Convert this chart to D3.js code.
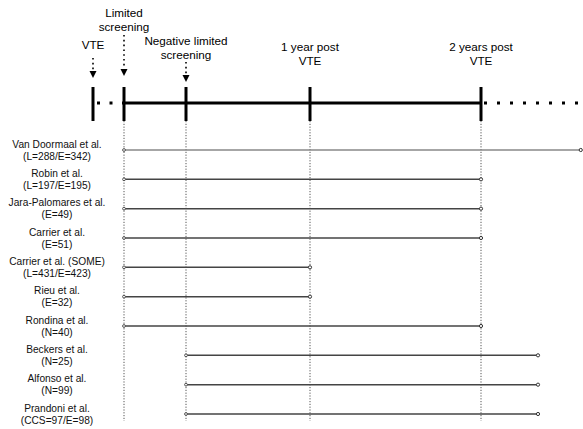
<!DOCTYPE html>
<html>
<head>
<meta charset="utf-8">
<script src="https://cdn.jsdelivr.net/npm/d3@7"></script>
<style>
  body { margin: 0; background: #fff; }
  svg { display: block; font-family: "Liberation Sans", Arial, sans-serif; }
</style>
</head>
<body>
<div id="chart"></div>
<script>
// milestones on the timeline (months after limited screening)
var milestoneNames = [["VTE"], ["Limited", "screening"], ["Negative limited", "screening"], ["1 year post", "VTE"], ["2 years post", "VTE"]];
var milestoneMonths = [-2, 0, 4, 12, 24];

// studies
var studyNames = ["Van Doormaal et al.", "Robin et al.", "Jara-Palomares et al.", "Carrier et al.", "Carrier et al. (SOME)",
  "Rieu et al.", "Rondina et al.", "Beckers et al.", "Alfonso et al.", "Prandoni et al."];
var studySizes = ["(L=288/E=342)", "(L=197/E=195)", "(E=49)", "(E=51)", "(L=431/E=423)",
  "(E=32)", "(N=40)", "(N=25)", "(N=99)", "(CCS=97/E=98)"];
var startMonth = [0, 0, 0, 0, 0, 0, 0, 4, 4, 4];
var endMonth = [31, 24, 24, 24, 12, 12, 24, 28, 28, 28];

var width = 583, height = 429;
var svg = d3.select('#chart').append('svg').attr('width', width).attr('height', height);

// piecewise time scale, the VTE -> screening part is a broken segment
var x = d3.scaleLinear().domain([-2, 0, 12, 24]).range([93, 124, 310, 481]);
var y = d3.scalePoint().domain(d3.range(studyNames.length)).range([150, 414]);

var axisY = 103;

// vertical dotted guides (not for VTE)
svg.selectAll('.guide').data(milestoneMonths.slice(1)).enter().append('line')
  .attr('x1', function(d){ return x(d); }).attr('x2', function(d){ return x(d); })
  .attr('y1', 121).attr('y2', 421)
  .attr('stroke', '#555').attr('stroke-width', 1).attr('stroke-dasharray', '1.2,1.6');

// main timeline
svg.append('line').attr('x1', x(0)).attr('x2', x(24)).attr('y1', axisY).attr('y2', axisY)
  .attr('stroke', '#000').attr('stroke-width', 3);
svg.append('line').attr('x1', x(-2) + 4).attr('x2', x(0)).attr('y1', axisY).attr('y2', axisY)
  .attr('stroke', '#000').attr('stroke-width', 3).attr('stroke-dasharray', '3,9.5');
svg.append('line').attr('x1', x(24) + 3).attr('x2', width).attr('y1', axisY).attr('y2', axisY)
  .attr('stroke', '#000').attr('stroke-width', 3).attr('stroke-dasharray', '3,10');

svg.selectAll('.tick').data(milestoneMonths).enter().append('line')
  .attr('x1', function(d){ return x(d); }).attr('x2', function(d){ return x(d); })
  .attr('y1', 87).attr('y2', 121)
  .attr('stroke', '#000').attr('stroke-width', 3);

// milestone labels
var labelTop = [45, 13, 41, 47, 47];
var arrowFrom = [58, 35, 62, null, null];
var arrowTip = [78, 76, 82, null, null];
milestoneMonths.forEach(function(m, i){
  var t = svg.append('text').attr('x', x(m)).attr('y', labelTop[i] + 4)
    .attr('text-anchor', 'middle').attr('font-size', 11.7).attr('fill', '#000');
  milestoneNames[i].forEach(function(s, j){
    t.append('tspan').attr('x', x(m)).attr('dy', j === 0 ? 0 : 14).text(s);
  });
  if (arrowFrom[i] !== null) {
    svg.append('line').attr('x1', x(m)).attr('x2', x(m))
      .attr('y1', arrowFrom[i]).attr('y2', arrowTip[i] - 8)
      .attr('stroke', '#000').attr('stroke-width', 1.6).attr('stroke-dasharray', '1.6,3.2');
    svg.append('path')
      .attr('d', 'M' + (x(m) - 3.5) + ',' + (arrowTip[i] - 7) + 'L' + (x(m) + 3.5) + ',' + (arrowTip[i] - 7) + 'L' + x(m) + ',' + arrowTip[i] + 'Z')
      .attr('fill', '#000');
  }
});

// study rows
var rows = svg.selectAll('.row').data(studyNames).enter().append('g').attr('class', 'row');

rows.append('line')
  .attr('x1', function(d, i){ return x(startMonth[i]); })
  .attr('x2', function(d, i){ return x(endMonth[i]); })
  .attr('y1', function(d, i){ return y(i); })
  .attr('y2', function(d, i){ return y(i); })
  .attr('stroke', function(d, i){ return i === 0 ? '#888' : '#444'; })
  .attr('stroke-width', 1.5);

rows.append('circle')
  .attr('cx', function(d, i){ return x(startMonth[i]); })
  .attr('cy', function(d, i){ return y(i); })
  .attr('r', 1.4).attr('fill', '#fff').attr('stroke', '#444').attr('stroke-width', 0.9);
rows.append('circle')
  .attr('cx', function(d, i){ return x(endMonth[i]); })
  .attr('cy', function(d, i){ return y(i); })
  .attr('r', 1.6).attr('fill', '#fff').attr('stroke', '#333').attr('stroke-width', 1);

var labels = rows.append('text').attr('text-anchor', 'middle').attr('font-size', 10.2).attr('fill', '#111');
labels.append('tspan').attr('x', 57).attr('y', function(d, i){ return y(i) - 2.5; }).text(function(d){ return d; });
labels.append('tspan').attr('x', 57).attr('y', function(d, i){ return y(i) + 9.5; }).text(function(d, i){ return studySizes[i]; });
</script>
</body>
</html>
